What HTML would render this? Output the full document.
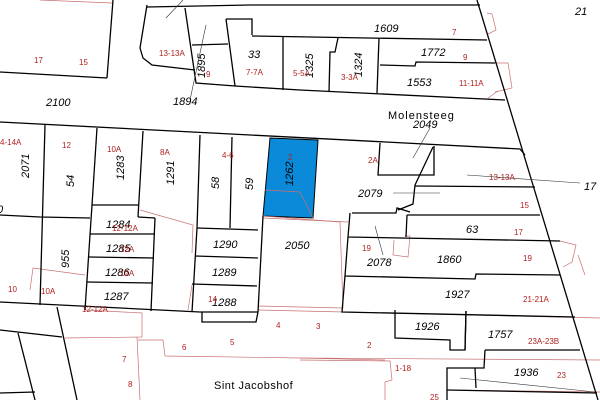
<!DOCTYPE html>
<html><head><meta charset="utf-8"><style>
html,body{margin:0;padding:0;background:#fff}
svg{display:block}
.b{fill:none;stroke:#000;stroke-width:1.3}
.r{fill:none;stroke:#c87070;stroke-width:.7}
.t{font-family:"Liberation Sans",sans-serif;font-style:italic;font-size:11px;fill:#000}
.s{font-family:"Liberation Sans",sans-serif;font-size:8px;fill:#b02020}
.l{fill:none;stroke:#333;stroke-width:.6}
</style></head><body>
<svg width="600" height="400" viewBox="0 0 600 400" xmlns="http://www.w3.org/2000/svg">
<rect width="600" height="400" fill="#fff"/>
<polygon points="270,138 318,140 313,218 263,216" fill="#0a8ad8" stroke="#000" stroke-width="1"/>
<g class="r">
<polyline points="40,0 112,3"/>
<polyline points="487,13 492,14 496,30 488,34"/>
<polyline points="495,63 508,63 512,88 495,92"/>
<polyline points="488,98 498,91"/>
<polyline points="265,190 300,192 313,218"/>
<polyline points="263,218 348,222"/>
<polyline points="263,216 340,222 343,308 258,306"/>
<polyline points="405,236 410,236 408,257 393,255 394,240"/>
<polyline points="560,241 576,245 572,262 563,267"/>
<polyline points="578,255 585,275"/>
<polyline points="30,290 33,268 85,275"/>
<polyline points="140,210 193,225 192,253"/>
<polyline points="192,285 188,310"/>
<polyline points="85,310 142,313 142,337 65,338"/>
<polyline points="137,337 140,400"/>
<polyline points="138,340 163,340 165,356 300,358 385,360"/>
<polyline points="258,310 600,318"/>
<polyline points="300,358 600,360"/>
<polyline points="300,360 390,361 392,380 385,382 385,400"/>
<polyline points="450,390 600,392"/>
</g>
<g class="b">
<polyline points="113,0 107,78"/>
<polyline points="0,72 107,78"/>
<polyline points="147,5 140,48 143,58 152,65 195,70"/>
<polyline points="147,7 250,5 480,5"/>
<polyline points="185,8 196,83 235,86 300,90 505,100"/>
<polyline points="192,45 228,44"/>
<polyline points="226,19 252,19 252,35"/>
<polyline points="226,19 235,86"/>
<polyline points="252,36 487,40"/>
<polyline points="283,37 283,90"/>
<polyline points="338,38 335,52 330,52 329,92"/>
<polyline points="379,38 377,93"/>
<polyline points="380,65 415,66 416,62 495,63"/>
<polyline points="477,0 598,400"/>
<polyline points="0,122 520,149 525,155"/>
<polyline points="45,125 40,305"/>
<polyline points="97,128 92,205"/>
<polyline points="143,131 138,217"/>
<polyline points="200,135 197,228"/>
<polyline points="232,137 230,228"/>
<polyline points="380,143 378,175 434,175 434,146"/>
<polyline points="433,147 415,185 413,204 398,210"/>
<polyline points="415,186 535,187"/>
<polyline points="352,213 396,213 397,208 410,212"/>
<polyline points="407,215 540,215"/>
<polyline points="407,215 406,237"/>
<polyline points="350,213 348,237 560,241"/>
<polyline points="348,237 345,276 475,279 476,274 560,275"/>
<polyline points="345,276 342,312 575,317"/>
<polyline points="395,310 395,338 450,340 450,350 465,350 466,311"/>
<polyline points="485,350 580,350"/>
<polyline points="485,350 484,368 447,368 447,400"/>
<polyline points="466,311 465,350"/>
<polyline points="475,368 476,388"/>
<polyline points="447,390 597,393"/>
<polyline points="263,216 258,312"/>
<polyline points="197,228 258,230"/>
<polyline points="195,256 258,258"/>
<polyline points="192,284 257,286"/>
<polyline points="197,228 192,312"/>
<polyline points="202,312 202,322 256,322 258,312"/>
<polyline points="92,205 138,205"/>
<polyline points="138,217 155,218"/>
<polyline points="92,205 85,310"/>
<polyline points="155,218 151,311"/>
<polyline points="90,234 155,234"/>
<polyline points="89,257 154,258"/>
<polyline points="87,282 153,283"/>
<polyline points="0,215 40,217 90,218"/>
<polyline points="0,302 200,312 258,312"/>
<polyline points="57,307 77,400"/>
<polyline points="0,330 62,337"/>
<polyline points="18,333 35,400"/>
<polyline points="0,393 35,392"/>
</g>
<g class="l">
<line x1="166" y1="18" x2="183" y2="0"/>
<line x1="206" y1="25" x2="190" y2="100"/>
<line x1="430" y1="128" x2="413" y2="158"/>
<line x1="393" y1="193" x2="440" y2="193"/>
<line x1="467" y1="175" x2="580" y2="183"/>
<line x1="375" y1="226" x2="383" y2="255"/>
<line x1="460" y1="378" x2="595" y2="392"/>
</g>
<g class="t">
<text x="374" y="32">1609</text>
<text x="248" y="58">33</text>
<text x="46" y="106">2100</text>
<text x="173" y="105">1894</text>
<text x="421" y="56">1772</text>
<text x="407" y="86">1553</text>
<text x="413" y="128">2049</text>
<text x="358" y="197">2079</text>
<text x="466" y="233">63</text>
<text x="367" y="266">2078</text>
<text x="437" y="263">1860</text>
<text x="445" y="298">1927</text>
<text x="415" y="330">1926</text>
<text x="488" y="338">1757</text>
<text x="514" y="376">1936</text>
<text x="285" y="249">2050</text>
<text x="213" y="248">1290</text>
<text x="212" y="276">1289</text>
<text x="212" y="306">1288</text>
<text x="106" y="228">1284</text>
<text x="106" y="252">1285</text>
<text x="105" y="276">1286</text>
<text x="104" y="300">1287</text>
<text x="575" y="15">21</text>
<text x="584" y="190">17</text>
<text x="-3" y="213">0</text>
<text transform="translate(29,178) rotate(-90)">2071</text>
<text transform="translate(74,187) rotate(-90)">54</text>
<text transform="translate(124,180) rotate(-90)">1283</text>
<text transform="translate(174,185) rotate(-90)">1291</text>
<text transform="translate(219,189) rotate(-90)">58</text>
<text transform="translate(253,190) rotate(-90)">59</text>
<text transform="translate(69,268) rotate(-90)">955</text>
<text transform="translate(293,186) rotate(-90)">1262</text>
<text transform="translate(205,78) rotate(-90)">1895</text>
<text transform="translate(313,78) rotate(-90)">1325</text>
<text transform="translate(362,77) rotate(-90)">1324</text>
</g>
<text x="388" y="119" font-family="Liberation Sans,sans-serif" font-size="11" letter-spacing="1">Molensteeg</text>
<text x="214" y="389" font-family="Liberation Sans,sans-serif" font-size="11" letter-spacing=".5">Sint Jacobshof</text>
<g class="s">
<text x="34" y="63">17</text><text x="79" y="65">15</text>
<text x="159" y="56">13-13A</text><text x="246" y="75">7-7A</text><text x="293" y="76">5-5A</text>
<text x="341" y="80">3-3A</text><text x="452" y="35">7</text><text x="463" y="60">9</text>
<text x="459" y="86">11-11A</text><text x="0" y="145">4-14A</text><text x="62" y="148">12</text>
<text x="107" y="152">10A</text><text x="160" y="155">8A</text><text x="222" y="158">4-6</text>
<text x="288" y="160">2</text><text x="368" y="163">2A</text><text x="489" y="180">13-13A</text>
<text x="520" y="208">15</text><text x="514" y="235">17</text><text x="523" y="261">19</text>
<text x="362" y="251">19</text><text x="523" y="302">21-21A</text><text x="528" y="344">23A-23B</text>
<text x="557" y="378">23</text><text x="430" y="400">25</text><text x="395" y="371">1-18</text>
<text x="367" y="348">2</text><text x="316" y="329">3</text><text x="276" y="328">4</text>
<text x="230" y="345">5</text><text x="182" y="350">6</text><text x="122" y="362">7</text>
<text x="128" y="387">8</text><text x="8" y="292">10</text><text x="41" y="294">10A</text>
<text x="82" y="312">12-12A</text><text x="112" y="231">12-12A</text><text x="120" y="252">12A</text>
<text x="120" y="276">12A</text><text x="208" y="302">14</text><text x="206" y="77">9</text>
</g>
</svg>
</body></html>
